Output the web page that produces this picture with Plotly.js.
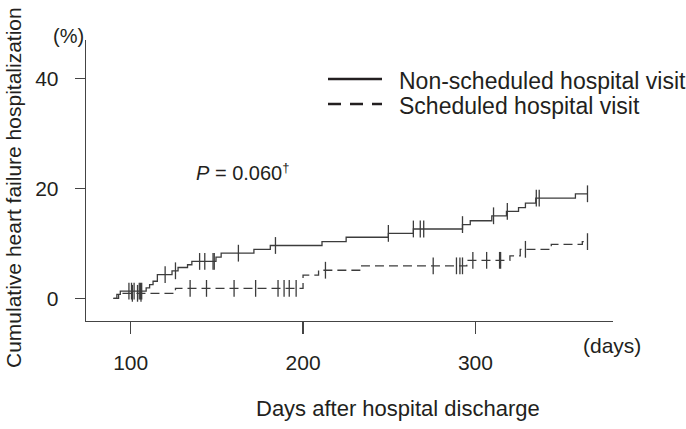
<!DOCTYPE html>
<html>
<head>
<meta charset="utf-8">
<script src="https://cdn.plot.ly/plotly-3.0.1.min.js"></script>
<style>html,body{margin:0;padding:0;background:#fff;}#chart{width:686px;height:429px;}</style>
</head>
<body>
<div id="chart"></div>
<script>
// ---- data ----
const seriesNames = ["Non-scheduled hospital visit", "Scheduled hospital visit"];

// Non-scheduled: step times (days) and cumulative incidence (%)
const nonSchedDays = [90, 92, 94, 109, 111, 113, 115.5, 124, 127.5, 133, 135.5, 149.5, 152.5, 171.5, 181, 211, 225, 249.5, 264, 292.5, 297, 309.5, 318, 325, 329, 335, 358, 365];
const nonSchedPct  = [0, 0.7, 1.3, 1.9, 2.5, 3.1, 4.3, 5.0, 5.6, 6.1, 6.7, 7.5, 8.2, 8.9, 9.6, 10.3, 11.1, 11.8, 12.6, 13.4, 14.1, 15.0, 15.8, 16.5, 17.3, 18.2, 19.0, 19.0];
const nonSchedCensor = [99, 100.5, 102, 105, 105.7, 106.4, 120, 126, 140, 143, 147.8, 148.5, 162.5, 184, 249.5, 264, 268, 270, 292.5, 310.5, 318.5, 335.3, 337, 365];

// Scheduled
const schedDays = [90, 93, 126, 200, 209, 234, 295, 320, 326, 344, 362, 365];
const schedPct  = [0, 0.9, 1.8, 4.2, 5.1, 5.9, 6.9, 7.7, 8.9, 9.8, 10.3, 10.3];
const schedCensor = [101, 104, 106, 134.5, 144, 160, 172.5, 185.5, 189, 192, 196, 213, 275.5, 289, 291, 292.5, 298.5, 306.5, 314, 314.6, 329, 365];

const xTickVals = [100, 200, 300];
const yTickVals = [0, 20, 40];
const pText = "<i>P</i> = 0.060<sup><span style=\"font-size:13px;fill:#231f20\">†</span></sup>";
const xTitle = "Days after hospital discharge";
const yTitle = "Cumulative heart failure hospitalization";
const xUnit = "(days)";
const yUnit = "(%)";

// ---- helpers ----
function stepValue(days, pct, t) {
  let v = pct[0];
  for (let i = 0; i < days.length; i++) { if (days[i] <= t) v = pct[i]; }
  return v;
}
const W = 686, H = 429;
const M = {l: 86, r: 73, t: 40, b: 108};
const PW = W - M.l - M.r, PH = H - M.t - M.b;
const px = x => (x - M.l) / PW;
const py = y => (H - M.b - y) / PH;

const ink = '#231f20';
const lineCol = '#3c3c3c';
const font = 'Liberation Sans, Arial, Helvetica, sans-serif';

const traces = [
  {x: nonSchedDays, y: nonSchedPct, mode: 'lines', line: {shape: 'hv', color: lineCol, width: 1.3}, name: seriesNames[0], showlegend: false, hoverinfo: 'skip'},
  {x: nonSchedCensor, y: nonSchedCensor.map(t => stepValue(nonSchedDays, nonSchedPct, t)), mode: 'markers',
   marker: {symbol: 'line-ns', size: 12, line: {color: lineCol, width: 1.3}}, showlegend: false, hoverinfo: 'skip'},
  {x: schedDays, y: schedPct, mode: 'lines', line: {shape: 'hv', color: lineCol, width: 1.3, dash: '9px,5px'}, name: seriesNames[1], showlegend: false, hoverinfo: 'skip'},
  {x: schedCensor, y: schedCensor.map(t => stepValue(schedDays, schedPct, t)), mode: 'markers',
   marker: {symbol: 'line-ns', size: 12, line: {color: lineCol, width: 1.3}}, showlegend: false, hoverinfo: 'skip'}
];

const layout = {
  width: W, height: H,
  margin: M,
  paper_bgcolor: '#fff', plot_bgcolor: '#fff',
  font: {family: font, color: ink, size: 21},
  showlegend: false,
  xaxis: {
    range: [74.1, 379.8], tickvals: xTickVals, ticks: 'outside', ticklen: 12, tickwidth: 1.3, tickcolor: '#444',
    showline: true, linecolor: '#444', linewidth: 1.3, showgrid: false, zeroline: false,
    tickfont: {size: 21, color: ink, family: font}, ticklabelstandoff: 10
  },
  yaxis: {
    range: [-4.13, 46.96], tickvals: yTickVals, ticks: 'outside', ticklen: 10, tickwidth: 1.3, tickcolor: '#444',
    showline: true, linecolor: '#444', linewidth: 1.3, showgrid: false, zeroline: false,
    tickfont: {size: 21, color: ink, family: font}, ticklabelstandoff: 12
  },
  shapes: [
    {type: 'line', xref: 'paper', yref: 'paper', x0: px(328), x1: px(382), y0: py(79), y1: py(79), line: {color: ink, width: 2.6}},
    {type: 'line', xref: 'paper', yref: 'paper', x0: px(328), x1: px(382), y0: py(104), y1: py(104), line: {color: ink, width: 2.6, dash: '13px,9px'}}
  ],
  annotations: [
    {xref: 'paper', yref: 'paper', x: px(397), y: py(81), xanchor: 'left', yanchor: 'middle', text: seriesNames[0], showarrow: false, font: {size: 23, color: ink, family: font}},
    {xref: 'paper', yref: 'paper', x: px(397), y: py(106), xanchor: 'left', yanchor: 'middle', text: seriesNames[1], showarrow: false, font: {size: 23, color: ink, family: font}},
    {xref: 'paper', yref: 'paper', x: px(194), y: py(172), xanchor: 'left', yanchor: 'middle', text: pText, showarrow: false, font: {size: 20, color: ink, family: font}},
    {xref: 'paper', yref: 'paper', x: px(68.5), y: py(36), xanchor: 'center', yanchor: 'middle', text: yUnit, showarrow: false, font: {size: 20, color: ink, family: font}},
    {xref: 'paper', yref: 'paper', x: px(612), y: py(345), xanchor: 'center', yanchor: 'middle', text: xUnit, showarrow: false, font: {size: 21, color: ink, family: font}},
    {xref: 'paper', yref: 'paper', x: px(397.5), y: py(408), xanchor: 'center', yanchor: 'middle', text: xTitle, showarrow: false, font: {size: 22, color: ink, family: font}},
    {xref: 'paper', yref: 'paper', x: px(13), y: py(188), xanchor: 'center', yanchor: 'middle', textangle: -90, text: yTitle, showarrow: false, font: {size: 21, color: ink, family: font}}
  ]
};

Plotly.newPlot('chart', traces, layout, {staticPlot: true, displayModeBar: false});
</script>
</body>
</html>
